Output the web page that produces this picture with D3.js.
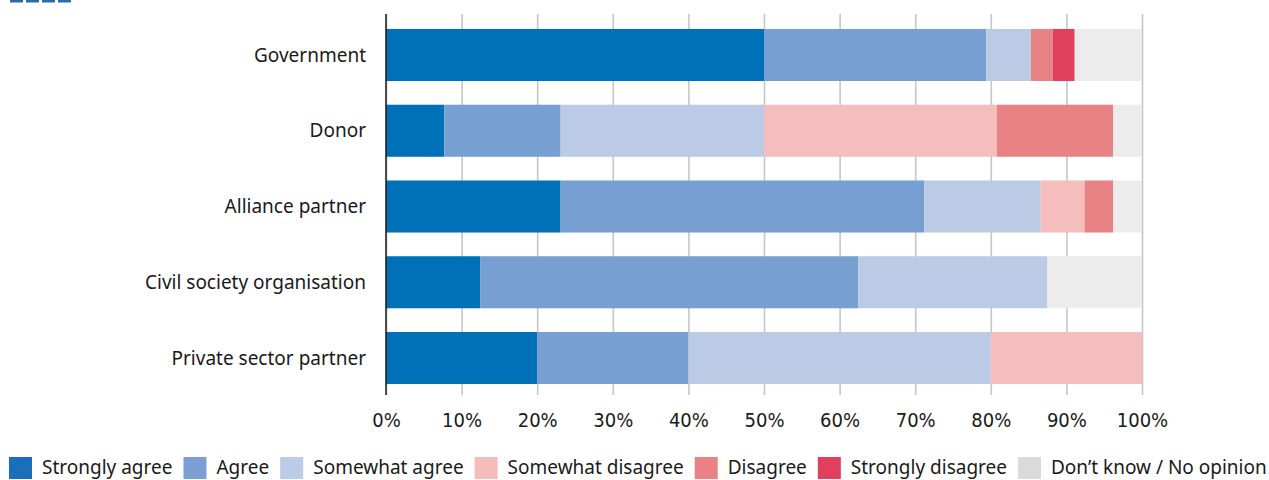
<!DOCTYPE html>
<html>
<head>
<meta charset="utf-8">
<script src="https://cdn.jsdelivr.net/npm/d3@7"></script>
<style>
  body { margin: 0; background: #fff; }
  svg { display: block; }
</style>
</head>
<body>
<div id="chart"></div>
<script>

// respondent groups (top to bottom)
const categories = ['Government', 'Donor', 'Alliance partner', 'Civil society organisation', 'Private sector partner'];

// answer options, in stacking order
const answers = ['Strongly agree', 'Agree', 'Somewhat agree', 'Somewhat disagree', 'Disagree', 'Strongly disagree', 'Don\u2019t know / No opinion'];

// share of each answer (%), one array per answer, same order as categories
const stronglyAgree    = [50.0,  7.7, 23.1, 12.5, 20];
const agree            = [29.4, 15.4, 48.1, 50.0, 20];
const somewhatAgree    = [ 5.9, 26.9, 15.4, 25.0, 40];
const somewhatDisagree = [ 0.0, 30.8,  5.8,  0.0, 20];
const disagree         = [ 2.9, 15.4,  3.8,  0.0,  0];
const stronglyDisagree = [ 2.9,  0.0,  0.0,  0.0,  0];
const dontKnow         = [ 8.8,  3.8,  3.8, 12.5,  0];

const xTicks = [0, 10, 20, 30, 40, 50, 60, 70, 80, 90, 100];

const colors = ['#0071b9', '#779fd1', '#bbcbe5', '#f5bdbc', '#e98284', '#df405b', '#ececec'];
const legendColors = ['#1a6fba', '#7a9fd2', '#bccbe6', '#f5bcbc', '#ea8285', '#e0405c', '#dadada'];

// build rows for d3.stack
function createDataArray() {
    const series = [stronglyAgree, agree, somewhatAgree, somewhatDisagree, disagree, stronglyDisagree, dontKnow];
    return categories.map(function(c, i) {
        let row = {name: c};
        answers.forEach(function(a, j) { row[a] = series[j][i]; });
        return row;
    });
}

function drawGraph() {
    const width = 1269, height = 480;
    const plotTop = 14, plotBottom = 395;

    const data = createDataArray();
    const stacked = d3.stack().keys(answers)(data);

    const svg = d3.select('#chart')
        .append('svg')
            .attr('width', width)
            .attr('height', height);

    // leftover of a dashed line peeking in at the top left
    svg.append('line')
        .attr('x1', 10).attr('x2', 74)
        .attr('y1', 1).attr('y2', 1)
        .style('stroke', '#2b6cb0')
        .style('stroke-width', 3)
        .style('stroke-dasharray', '13,3');

    const x = d3.scaleLinear()
        .domain([0, 100])
        .range([386, 1142]);

    const y = d3.scaleBand()
        .domain(categories)
        .range([17, 396])
        .paddingInner(0.313)
        .paddingOuter(0.158);

    // grid + tick labels
    const xAxis = svg.append('g')
        .attr('transform', `translate(0, ${plotBottom})`)
        .call(d3.axisBottom(x)
            .tickValues(xTicks)
            .tickFormat(d => d + '%')
            .tickSize(-(plotBottom - plotTop))
            .tickSizeOuter(0)
            .tickPadding(18));
    xAxis.select('.domain').remove();
    xAxis.selectAll('line')
        .style('stroke', '#c6c6c6')
        .style('stroke-width', 1.6);
    xAxis.selectAll('text')
        .style('font-family', '"DejaVu Sans Condensed", "DejaVu Sans", sans-serif')
        .style('font-stretch', 'condensed')
        .style('font-size', '20px')
        .style('fill', '#1a1a1a');

    // bars
    svg.append('g')
        .selectAll('g')
        .data(stacked)
        .enter()
        .append('g')
            .style('fill', (d, i) => colors[i])
        .selectAll('rect')
        .data(d => d)
        .enter()
        .append('rect')
            .attr('x', d => x(d[0]))
            .attr('y', d => y(d.data.name))
            .attr('width', d => x(d[1]) - x(d[0]))
            .attr('height', y.bandwidth());

    // vertical axis line
    svg.append('line')
        .attr('x1', x(0)).attr('x2', x(0))
        .attr('y1', plotTop).attr('y2', plotBottom)
        .style('stroke', '#1a1a1a')
        .style('stroke-width', 1.5);

    // category labels
    svg.append('g')
        .selectAll('text')
        .data(categories)
        .enter()
        .append('text')
            .attr('x', 366)
            .attr('y', d => y(d) + y.bandwidth() / 2)
            .attr('dy', '0.35em')
            .attr('text-anchor', 'end')
            .style('font-family', '"Noto Sans", sans-serif')
            .style('font-size', '19px')
            .style('fill', '#1a1a1a')
            .text(d => d);

    // legend, laid out left to right (nudged up so descenders stay inside)
    const legend = svg.append('g')
        .attr('transform', 'translate(9, 457)');
    let cursor = 0;
    answers.forEach(function(a, i) {
        const item = legend.append('g').attr('transform', `translate(${cursor}, 0)`);
        item.append('rect')
            .attr('width', 23)
            .attr('height', 22)
            .style('fill', legendColors[i]);
        const t = item.append('text')
            .attr('x', 33)
            .attr('y', 17)
            .style('font-family', '"Noto Sans", sans-serif')
            .style('font-size', '19px')
            .style('fill', '#1a1a1a')
            .text(a);
        cursor += 33 + t.node().getComputedTextLength() + 11;
    });
}

drawGraph();
</script>
</body>
</html>
